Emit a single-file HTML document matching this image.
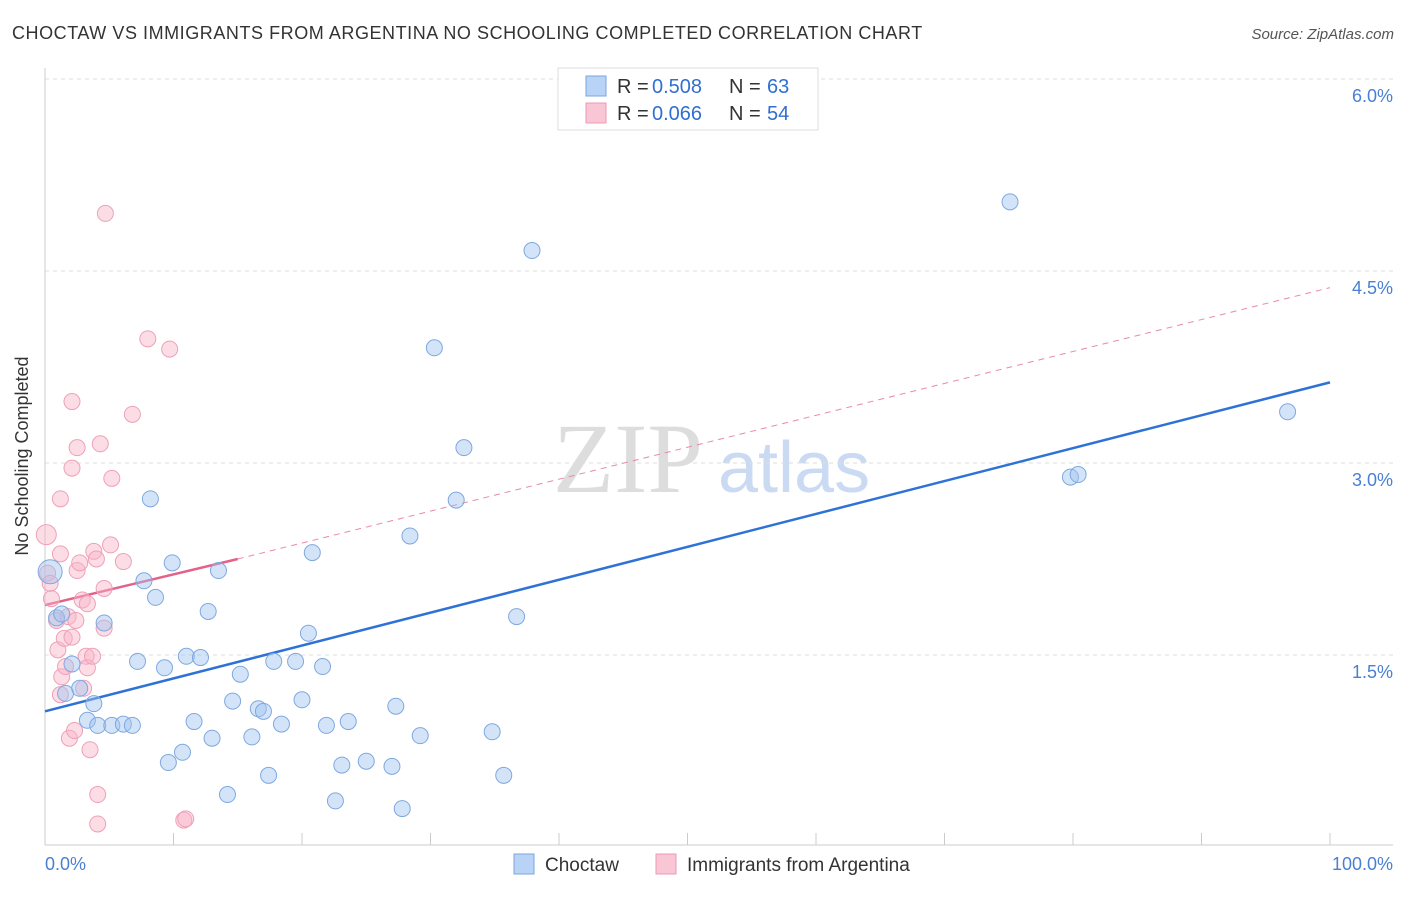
<!DOCTYPE html>
<html><head><meta charset="utf-8"><style>
body{margin:0;background:#fff;font-family:"Liberation Sans",sans-serif;}
</style></head><body>
<svg width="1406" height="892" xmlns="http://www.w3.org/2000/svg" font-family="Liberation Sans, sans-serif">
<text x="12" y="39" font-size="18" fill="#333" letter-spacing="0.55">CHOCTAW VS IMMIGRANTS FROM ARGENTINA NO SCHOOLING COMPLETED CORRELATION CHART</text>
<text x="1394" y="39" font-size="15" fill="#555" text-anchor="end" font-style="italic">Source: ZipAtlas.com</text>
<text x="553" y="492" font-size="100" fill="#ddd" font-family="Liberation Serif, serif">ZIP</text>
<text x="718" y="492" font-size="72" fill="#c9daf2">atlas</text>
<g id="grid"></g>
<line x1="45" y1="68" x2="45" y2="845" stroke="#ccc"/>
<line x1="45" y1="845" x2="1393" y2="845" stroke="#ccc"/>
<text x="28" y="456" font-size="18" fill="#333" transform="rotate(-90 28 456)" text-anchor="middle">No Schooling Completed</text>
<text x="45" y="870" font-size="18" fill="#4a7fd4">0.0%</text>
<text x="1393" y="870" font-size="18" fill="#4a7fd4" text-anchor="end">100.0%</text>
<g id="lines"></g>
<g id="pts"></g>
<g>
<rect x="558" y="68" width="260" height="62" fill="#fff" stroke="#ddd"/>
<rect x="586" y="76" width="20" height="20" fill="#b8d3f5" stroke="#7aa6e0"/>
<rect x="586" y="103" width="20" height="20" fill="#f8c6d5" stroke="#ee9ab4"/>
<text x="617" y="93" font-size="20" fill="#333">R =</text>
<text x="652" y="93" font-size="20" fill="#2f6fd0">0.508</text>
<text x="729" y="93" font-size="20" fill="#333">N =</text>
<text x="767" y="93" font-size="20" fill="#2f6fd0">63</text>
<text x="617" y="120" font-size="20" fill="#333">R =</text>
<text x="652" y="120" font-size="20" fill="#2f6fd0">0.066</text>
<text x="729" y="120" font-size="20" fill="#333">N =</text>
<text x="767" y="120" font-size="20" fill="#2f6fd0">54</text>
</g>
<g>
<rect x="514" y="854" width="20" height="20" fill="#b8d3f5" stroke="#7aa6e0"/>
<text x="545" y="871" font-size="19" fill="#333">Choctaw</text>
<rect x="656" y="854" width="20" height="20" fill="#f8c6d5" stroke="#ee9ab4"/>
<text x="687" y="871" font-size="19" fill="#333">Immigrants from Argentina</text>
</g>
</svg>
<script>
const yTicks=[1.5,3.0,4.5,6.0];
const xTickCount=10;
const blueX=[0.4,0.9,1.3,1.6,2.1,2.7,3.3,3.8,4.1,4.6,5.2,6.1,6.8,7.2,7.7,8.2,8.6,9.3,9.6,9.9,10.7,11.0,11.6,12.1,12.7,13.0,13.5,14.2,14.6,15.2,16.1,16.6,17.0,17.4,17.8,18.4,19.5,20.0,20.5,20.8,21.6,21.9,22.6,23.1,23.6,25.0,27.0,27.3,27.8,28.4,29.2,30.3,32.0,32.6,34.8,35.7,36.7,37.9,75.1,79.8,80.4,96.7];
const blueY=[2.15,1.79,1.82,1.20,1.43,1.24,0.99,1.12,0.95,1.75,0.95,0.96,0.95,1.45,2.08,2.72,1.95,1.40,0.66,2.22,0.74,1.49,0.98,1.48,1.84,0.85,2.16,0.41,1.14,1.35,0.86,1.08,1.06,0.56,1.45,0.96,1.45,1.15,1.67,2.30,1.41,0.95,0.36,0.64,0.98,0.67,0.63,1.10,0.30,2.43,0.87,3.90,2.71,3.12,0.90,0.56,1.80,4.66,5.04,2.89,2.91,3.40];
const pinkX=[0.1,0.2,0.4,0.5,0.9,1.0,1.2,1.2,1.2,1.3,1.5,1.6,1.8,1.9,2.1,2.1,2.1,2.3,2.4,2.5,2.5,2.7,2.9,3.0,3.2,3.3,3.3,3.5,3.7,3.8,4.0,4.1,4.1,4.3,4.6,4.6,4.7,5.1,5.2,6.1,6.8,8.0,9.7,10.8,10.95];
const pinkY=[2.44,2.14,2.06,1.94,1.77,1.54,2.72,2.29,1.19,1.33,1.63,1.41,1.80,0.85,1.64,2.96,3.48,0.91,1.77,2.16,3.12,2.22,1.93,1.24,1.49,1.90,1.40,0.76,1.49,2.31,2.25,0.41,0.18,3.15,1.71,2.02,4.95,2.36,2.88,2.23,3.38,3.97,3.89,0.21,0.22];
const blueFit=[0,1.06,100,3.63];
const pinkFit=[0,1.89,15,2.25,100,4.37];
const X=v=>45+v*12.85, Y=v=>847-v*128;
const NS='http://www.w3.org/2000/svg';
function mk(p,t,a){const e=document.createElementNS(NS,t);for(const k in a)e.setAttribute(k,a[k]);document.getElementById(p).appendChild(e);return e;}
yTicks.forEach(t=>{
 const l=mk('grid','line',{x1:45,x2:1393,y1:Y(t),y2:Y(t),stroke:'#ddd','stroke-dasharray':'4,4'});
 
 
 const tx=mk('grid','text',{x:1393,y:Y(t)+23,'font-size':18,fill:'#4a7fd4','text-anchor':'end'});
 tx.textContent=t.toFixed(1)+'%';
 
 
});
for(let i=1;i<=xTickCount;i++){
 const l=mk('grid','line',{x1:X(i*10),x2:X(i*10),y1:833,y2:845,stroke:'#ccc'});
 
 
}
pinkX.forEach((x,i)=>{
 const c=mk('pts','circle',{cx:X(x),cy:Y(pinkY[i]),r:i==0?10:8,fill:'rgba(248,180,200,0.45)',stroke:'#eea0b8','stroke-width':1});
 
 
});
blueX.forEach((x,i)=>{
 const c=mk('pts','circle',{cx:X(x),cy:Y(blueY[i]),r:i==0?12:8,fill:'rgba(160,196,240,0.45)',stroke:'#7ea8e0','stroke-width':1});
 
 
});
let l=mk('lines','line',{x1:X(blueFit[0]),y1:Y(blueFit[1]),x2:X(blueFit[2]),y2:Y(blueFit[3]),stroke:'#2f72d6','stroke-width':2.5});


l=mk('lines','line',{x1:X(pinkFit[2]),y1:Y(pinkFit[3]),x2:X(pinkFit[4]),y2:Y(pinkFit[5]),stroke:'#e88aa6','stroke-width':1,'stroke-dasharray':'6,5'});


l=mk('lines','line',{x1:X(pinkFit[0]),y1:Y(pinkFit[1]),x2:X(pinkFit[2]),y2:Y(pinkFit[3]),stroke:'#e3628a','stroke-width':2.5});


</script>
</body></html>
